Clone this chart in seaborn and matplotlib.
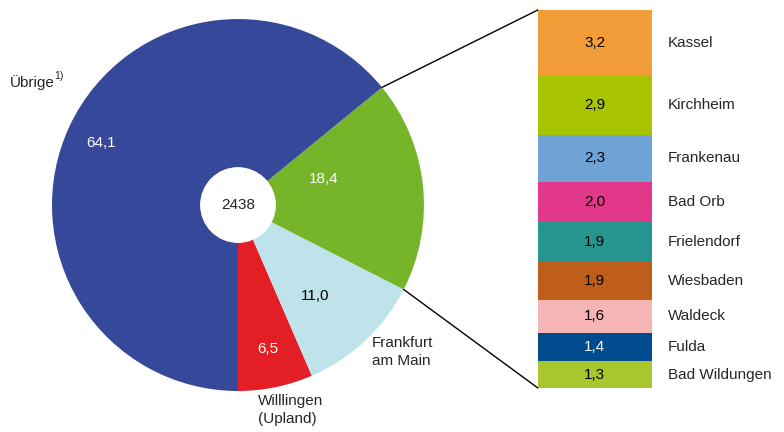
import numpy as np
import seaborn as sns
import matplotlib.pyplot as plt
from matplotlib.patches import Circle, ConnectionPatch

sns.set_theme(style='white')
plt.rcParams['font.family'] = ['Liberation Sans', 'DejaVu Sans']

# pie data
pie_labels = ['Willlingen\n(Upland)', 'Frankfurt\nam Main', 'Rest', 'Übrige']
pie_values = [6.5, 11.0, 18.4, 64.1]
pie_colors = ['#E31E24', '#BEE3EA', '#76B52A', '#36489A']
pie_text_colors = ['white', 'black', 'white', 'white']
total_n = 2438

# bar data (aufgeteilter Teil)
bar_labels = ['Kassel', 'Kirchheim', 'Frankenau', 'Bad Orb', 'Frielendorf',
              'Wiesbaden', 'Waldeck', 'Fulda', 'Bad Wildungen']
bar_values = [3.2, 2.9, 2.3, 2.0, 1.9, 1.9, 1.6, 1.4, 1.3]
bar_colors = ['#F39C3A', '#A8C400', '#6FA3D6', '#E2388A', '#269590',
              '#BF5E1A', '#F5B5B5', '#004B8D', '#A9C62E']
bar_text_colors = ['black'] * 7 + ['white', 'black']

fig = plt.figure(figsize=(7.84, 4.32), dpi=100)
ax_pie = fig.add_axes([0.0663, 0.0949, 0.4745, 0.861])
ax_bar = fig.add_axes([0.686, 0.1019, 0.1454, 0.875])

wedges, _ = ax_pie.pie(pie_values, colors=pie_colors, startangle=-90,
                       counterclock=True, radius=1,
                       wedgeprops={'linewidth': 0, 'edgecolor': 'none'})
ax_pie.set_xlim(-1, 1)
ax_pie.set_ylim(-1, 1)
ax_pie.set_aspect('equal')
ax_pie.axis('off')
ax_pie.add_patch(Circle((0, 0), 0.2, color='white', zorder=3))
ax_pie.text(0, 0, str(total_n), ha='center', va='center', fontsize=11, zorder=4)

# value labels inside the wedges
lab_r = [0.79, 0.64, 0.48, 0.81]
lab_shift = [0, -3, 11, 1]
for w, v, c, r, s in zip(wedges, pie_values, pie_text_colors, lab_r, lab_shift):
    a = np.deg2rad((w.theta1 + w.theta2) / 2 + s)
    ax_pie.text(r * np.cos(a), r * np.sin(a), f'{v:.1f}'.replace('.', ','),
                ha='center', va='center', fontsize=11, color=c)

# stacked bar
bottoms = np.concatenate([[0], np.cumsum(bar_values)[:-1]])
ax_bar.bar(0, bar_values, bottom=bottoms, width=1, color=bar_colors, linewidth=0)
bar_total = sum(bar_values)
ax_bar.set_xlim(-0.5, 0.5)
ax_bar.set_ylim(bar_total, 0)
ax_bar.axis('off')
for b, v, name, c in zip(bottoms, bar_values, bar_labels, bar_text_colors):
    ax_bar.text(0, b + v / 2, f'{v:.1f}'.replace('.', ','), ha='center',
                va='center', fontsize=11, color=c)
    ax_bar.text(0.64, b + v / 2, name, ha='left', va='center', fontsize=11,
                clip_on=False)

# connector lines from the split wedge
rest = wedges[2]
for ang, yb in [(rest.theta2, 0), (rest.theta1, bar_total)]:
    a = np.deg2rad(ang)
    con = ConnectionPatch(xyA=(np.cos(a), np.sin(a)), coordsA=ax_pie.transData,
                          xyB=(-0.5, yb), coordsB=ax_bar.transData,
                          color='black', linewidth=1)
    fig.add_artist(con)

# outer labels
fig.text(0.013, 0.81, 'Übrige', ha='left', va='center', fontsize=11)
fig.text(0.069, 0.823, '1)', ha='left', va='center', fontsize=7.5)
fig.text(0.4745, 0.185, pie_labels[1], ha='left', va='center', fontsize=11,
         linespacing=1.35)
fig.text(0.329, 0.051, pie_labels[0], ha='left', va='center', fontsize=11,
         linespacing=1.35)

fig.savefig('out.png', dpi=100, facecolor='white')
